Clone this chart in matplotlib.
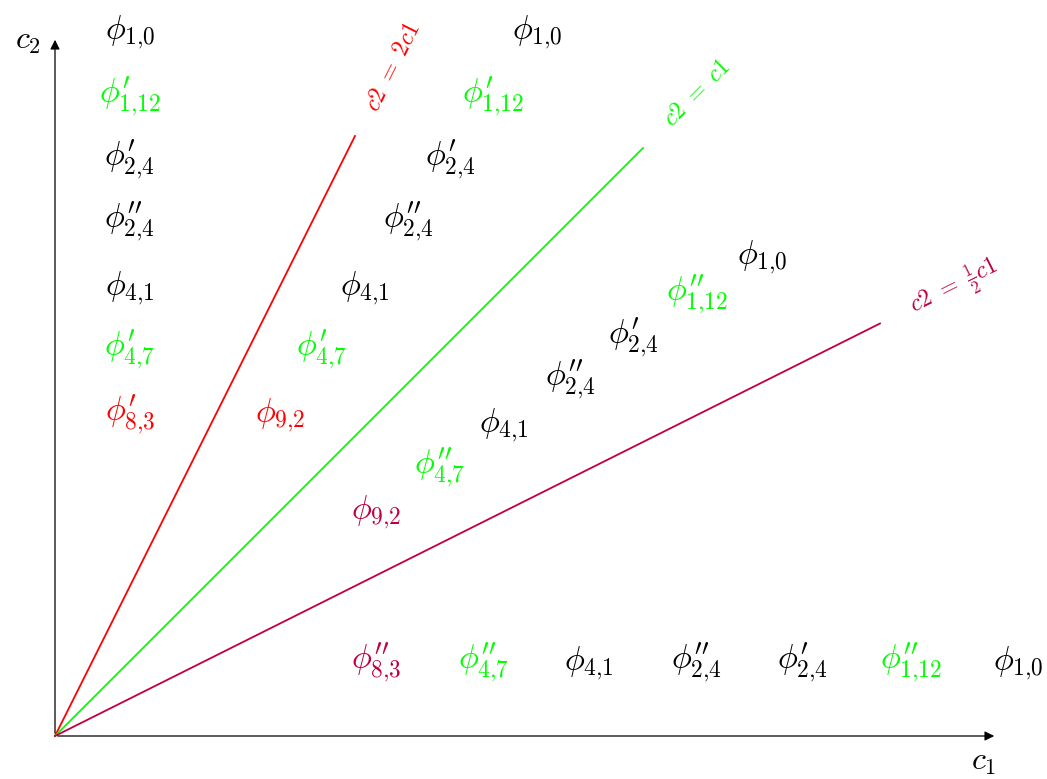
import numpy as np
import matplotlib.pyplot as plt

plt.rcParams['mathtext.fontset'] = 'cm'

# unit: 30 px in the reference picture
slopes = [2, 1, 0.5]
line_ends = [10, 19.6, 27.5]          # x where each line stops
line_colors = ['#ff0000', '#00ff00', '#bf0040']
line_labels = [r'$c2\ =\ 2c1$', r'$c2\ =\ c1$', r'$c2\ =\ \frac{1}{2}c1$']
line_label_pos = [(11.25, 22.3), (21.4, 21.45), (30.0, 14.95)]
line_label_rot = [63.4, 45, 26.6]

# labels: (text, colour key, x, y)
K, G, R, P = 'k', '#00ff00', '#ff0000', '#bf0040'
p1 = r"^{\prime}"
p2 = r"^{\prime\prime}"
names = [r"\phi_{1{,}0}", r"\phi" + p1 + r"_{1{,}12}", r"\phi" + p1 + r"_{2{,}4}",
         r"\phi" + p2 + r"_{2{,}4}", r"\phi_{4{,}1}", r"\phi" + p1 + r"_{4{,}7}"]

col1 = names + [r"\phi" + p1 + r"_{8{,}3}"]
col1_c = [K, G, K, K, K, G, R]
col1_x = [2.5, 2.5, 2.5, 2.5, 2.5, 2.5, 2.5]
col1_y = [23.45, 21.3, 19.2, 17.13, 14.93, 12.87, 10.7]

col2 = names + [r"\phi_{9{,}2}"]
col2_c = [K, G, K, K, K, G, R]
col2_x = [16.07, 14.6, 13.17, 11.77, 10.33, 8.9, 7.5]
col2_y = col1_y

col3 = [r"\phi_{1{,}0}", r"\phi" + p2 + r"_{1{,}12}", r"\phi" + p1 + r"_{2{,}4}",
        r"\phi" + p2 + r"_{2{,}4}", r"\phi_{4{,}1}", r"\phi" + p2 + r"_{4{,}7}",
        r"\phi_{9{,}2}"]
col3_c = [K, G, K, K, K, G, P]
col3_x = [23.57, 21.4, 19.27, 17.17, 14.97, 12.83, 10.7]
col3_y = [15.97, 14.7, 13.27, 11.87, 10.37, 8.93, 7.47]

row4 = [r"\phi" + p2 + r"_{8{,}3}", r"\phi" + p2 + r"_{4{,}7}", r"\phi_{4{,}1}",
        r"\phi" + p2 + r"_{2{,}4}", r"\phi" + p1 + r"_{2{,}4}",
        r"\phi" + p2 + r"_{1{,}12}", r"\phi_{1{,}0}"]
row4_c = [P, G, K, K, K, G, K]
row4_x = [10.7, 14.3, 17.8, 21.4, 24.93, 28.53, 32.1]
row4_y = [2.43] * 7

fig = plt.figure(figsize=(10.47, 7.79), dpi=100)
ax = fig.add_axes([0, 0, 1, 1])
ax.set_xlim(-55 / 30, (1047 - 55) / 30)
ax.set_ylim(-(779 - 736) / 30, 736 / 30)
ax.axis('off')

# axes arrows
ax.annotate('', xy=(31.4, 0), xytext=(0, 0),
            arrowprops=dict(arrowstyle='-|>', color='k', lw=0.9, mutation_scale=14))
ax.annotate('', xy=(0, 23.3), xytext=(0, 0),
            arrowprops=dict(arrowstyle='-|>', color='k', lw=0.9, mutation_scale=14))
ax.text(30.95, -0.85, r'$c_1$', fontsize=23, ha='center', va='center')
ax.text(-0.9, 23.2, r'$c_2$', fontsize=23, ha='center', va='center')

for s, xe, c, lab, pos, rot in zip(slopes, line_ends, line_colors,
                                   line_labels, line_label_pos, line_label_rot):
    xs = np.array([0, xe])
    ax.plot(xs, s * xs, color=c, lw=1.3)
    ax.text(pos[0], pos[1], lab, color=c, fontsize=17, rotation=rot,
            ha='center', va='center', rotation_mode='anchor')

for txts, cs, xs, ys in [(col1, col1_c, col1_x, col1_y),
                         (col2, col2_c, col2_x, col2_y),
                         (col3, col3_c, col3_x, col3_y),
                         (row4, row4_c, row4_x, row4_y)]:
    for t, c, x, y in zip(txts, cs, xs, ys):
        ax.text(x, y, '$' + t + '$', color=c, fontsize=24,
                ha='center', va='center')

fig.savefig('out.png', dpi=100)
